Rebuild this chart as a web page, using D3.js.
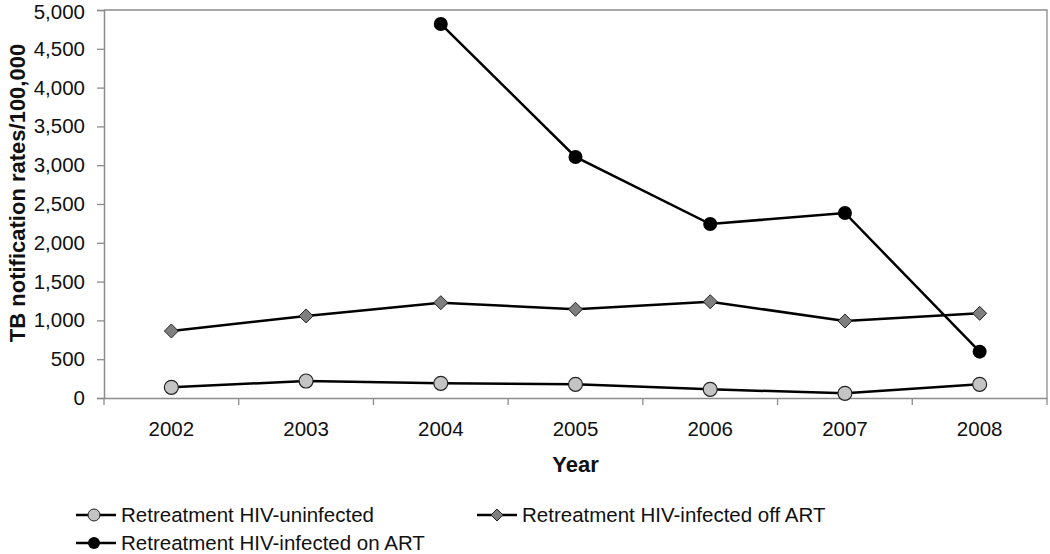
<!DOCTYPE html>
<html><head><meta charset="utf-8">
<script src="https://cdn.jsdelivr.net/npm/d3@7"></script>
<style>body{margin:0;background:#fff;font-family:"Liberation Sans",Arial,sans-serif;}</style>
</head><body><svg id="c" width="1050" height="554"></svg>
<script>
const years = ["2002","2003","2004","2005","2006","2007","2008"];
const uninfected = [138, 219, 189, 176, 112, 60, 176];
const offART = [863, 1057, 1228, 1143, 1241, 992, 1091];
const onART = [null, null, 4820, 3106, 2242, 2384, 597];
const yTicks = [0,500,1000,1500,2000,2500,3000,3500,4000,4500,5000];
const seriesNames = ["Retreatment HIV-uninfected","Retreatment HIV-infected off ART","Retreatment HIV-infected on ART"];

const svg = d3.select("#c");
const m = {l:104, r:1047, t:10, b:398};
const x = d3.scaleBand().domain(years).range([m.l, m.r]);
const y = d3.scaleLinear().domain([0,5000]).range([m.b, m.t]);
const fmt = d3.format(",");
const axisCol = "#8c8c8c";
const FONT = "Liberation Sans, Arial, sans-serif";

// frame top/right
svg.append("path").attr("d",`M${m.l},${m.t}H${m.r}V${m.b}`).attr("fill","none").attr("stroke",axisCol).attr("stroke-width",1.3);

const ya = svg.append("g").attr("transform",`translate(${m.l},0)`)
  .call(d3.axisLeft(y).tickValues(yTicks).tickFormat(fmt).tickSize(7).tickPadding(12));
const xa = svg.append("g").attr("transform",`translate(0,${m.b})`)
  .call(d3.axisBottom(x).tickSize(0).tickPadding(23));
[ya, xa].forEach(a=>{
  a.selectAll("path.domain").attr("stroke",axisCol).attr("stroke-width",1.5);
  a.selectAll("line").attr("stroke",axisCol).attr("stroke-width",1.3);
  a.selectAll("text").attr("font-family",FONT).attr("font-size",20.5).attr("fill","#111");
});
// keep the top label inside the picture
ya.selectAll(".tick").filter(d=>d===5000).select("text").attr("dy","0.42em");
// x tick marks at band boundaries
const bounds = years.map(d=>x(d)).concat([m.r]);
svg.append("g").selectAll("line").data(bounds).join("line")
  .attr("x1",d=>d).attr("x2",d=>d).attr("y1",m.b).attr("y2",m.b+7)
  .attr("stroke",axisCol).attr("stroke-width",1.3);

svg.append("text").attr("x",(m.l+m.r)/2).attr("y",472).attr("text-anchor","middle")
  .attr("font-family",FONT).attr("font-size",22).attr("font-weight","bold").attr("fill","#111").text("Year");
svg.append("text").attr("transform",`translate(25,193) rotate(-90)`).attr("text-anchor","middle")
  .attr("font-family",FONT).attr("font-size",22).attr("font-weight","bold").attr("fill","#111").text("TB notification rates/100,000");

const cx = d=>x(d)+x.bandwidth()/2;
const line = d3.line().defined(d=>d[1]!=null).x(d=>cx(d[0])).y(d=>y(d[1]));
const series = [
  {vals:uninfected, shape:"circle", fill:"#c4c4c4"},
  {vals:offART, shape:"diamond", fill:"#7f7f7f"},
  {vals:onART, shape:"dot", fill:"#000"}
];
function marker(g, s, px, py){
  if(s.shape==="circle") g.append("circle").attr("cx",px).attr("cy",py).attr("r",7).attr("fill",s.fill).attr("stroke","#222").attr("stroke-width",1.2);
  else if(s.shape==="dot") g.append("circle").attr("cx",px).attr("cy",py).attr("r",7).attr("fill","#000");
  else g.append("path").attr("d",`M${px},${py-7}L${px+7},${py}L${px},${py+7}L${px-7},${py}Z`).attr("fill",s.fill).attr("stroke","#222").attr("stroke-width",1);
}
series.forEach(s=>{
  const pts = years.map((yr,i)=>[yr,s.vals[i]]);
  svg.append("path").datum(pts).attr("d",line).attr("fill","none").attr("stroke","#000").attr("stroke-width",2.5);
  const g = svg.append("g");
  pts.filter(p=>p[1]!=null).forEach(p=>marker(g,s,cx(p[0]),y(p[1])));
});

// legend
const leg = [{x:76,y:515},{x:477,y:515},{x:76,y:543}];
series.forEach((s,i)=>{
  const L = leg[i];
  const g = svg.append("g");
  g.append("line").attr("x1",L.x).attr("x2",L.x+40).attr("y1",L.y).attr("y2",L.y).attr("stroke","#000").attr("stroke-width",2.5);
  if(s.shape==="diamond"){
    g.append("path").attr("d",`M${L.x+20},${L.y-6}L${L.x+26},${L.y}L${L.x+20},${L.y+6}L${L.x+14},${L.y}Z`).attr("fill",s.fill).attr("stroke","#222");
  } else {
    g.append("circle").attr("cx",L.x+18).attr("cy",L.y).attr("r",6).attr("fill",s.fill).attr("stroke",s.shape==="circle"?"#222":"none");
  }
  g.append("text").attr("x",L.x+45).attr("y",L.y+7).attr("font-family",FONT).attr("font-size",20.5).attr("fill","#111").text(seriesNames[i]);
});
</script></body></html>
